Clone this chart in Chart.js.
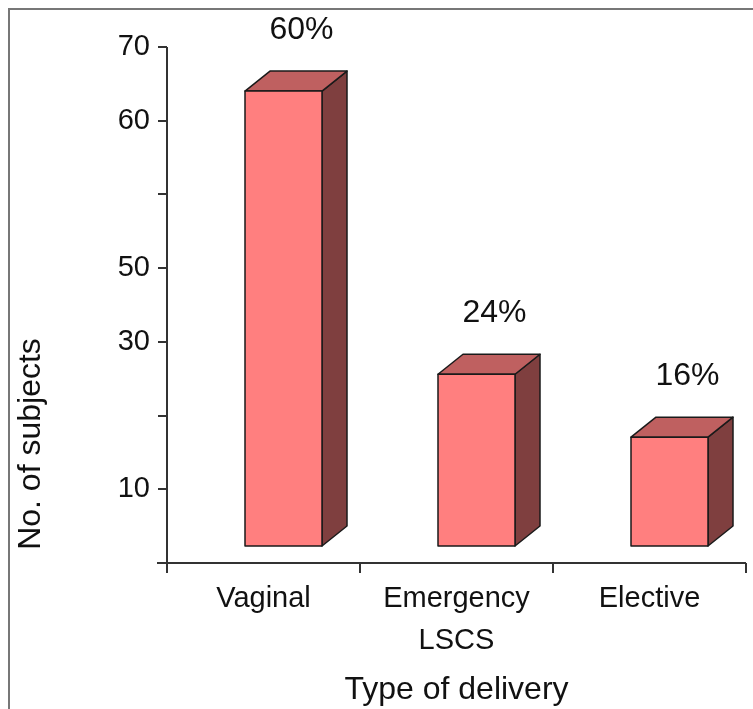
<!DOCTYPE html>
<html>
<head>
<meta charset="utf-8">
<title>Type of delivery</title>
<script src="https://cdn.jsdelivr.net/npm/chart.js@4.4.1/dist/chart.umd.min.js"></script>
<style>
  body { margin: 0; background: #fff; }
  canvas { display: block; }
</style>
</head>
<body>
<canvas id="deliveryChart" width="753" height="709"></canvas>
<script>
// data
const categories = ['Vaginal', ['Emergency', 'LSCS'], 'Elective'];
const percentValues = [60, 24, 16];
const yTickLabels = ['', '10', '', '30', '50', '', '60', '70']; // bottom -> top
const yAxisTop = 65.6;

const FONT = '"Liberation Sans", Arial, sans-serif';
const TEXT = '#111';
const AXIS = '#333';

// box look
const FRONT = '#ff7f7f', TOPFACE = '#bf6060', SIDE = '#7f3f3f';
const DEPTH_X = 25, DEPTH_Y = 20, LIFT = 16, SHIFT = 20;

const framePlugin = {
    id: 'frame',
    beforeDraw(chart) {
        const ctx = chart.ctx;
        ctx.save();
        ctx.fillStyle = '#fff';
        ctx.fillRect(0, 0, chart.width, chart.height);
        ctx.strokeStyle = '#777';
        ctx.lineWidth = 2;
        ctx.strokeRect(9, 9, chart.width + 20, chart.height + 20);
        ctx.restore();
    }
};

const axisLinesPlugin = {
    id: 'axisLines',
    afterDraw(chart) {
        const { ctx, chartArea: a } = chart;
        ctx.save();
        ctx.strokeStyle = AXIS;
        ctx.lineWidth = 2;
        ctx.beginPath();
        ctx.moveTo(a.left, a.top);
        ctx.lineTo(a.left, a.bottom + 10);
        ctx.moveTo(a.left - 10, a.bottom);
        ctx.lineTo(a.right, a.bottom);
        ctx.stroke();

        // y axis title
        ctx.fillStyle = TEXT;
        ctx.font = '32px ' + FONT;
        ctx.textAlign = 'center';
        ctx.textBaseline = 'middle';
        ctx.translate(31, 444);
        ctx.rotate(-Math.PI / 2);
        ctx.fillText('No. of subjects', 0, 0);
        ctx.restore();
    }
};

const boxPlugin = {
    id: 'boxes',
    afterDatasetsDraw(chart) {
        const ctx = chart.ctx;
        const meta = chart.getDatasetMeta(0);
        ctx.save();
        ctx.strokeStyle = '#1a1a1a';
        ctx.lineWidth = 1.5;
        ctx.lineJoin = 'round';
        meta.data.forEach((bar, i) => {
            const p = bar.getProps(['x', 'y', 'base', 'width'], true);
            const left = p.x - p.width / 2 + SHIFT;
            const right = left + p.width;
            const top = p.y;
            const bottom = p.base - LIFT;

            // side
            ctx.fillStyle = SIDE;
            ctx.beginPath();
            ctx.moveTo(right, top);
            ctx.lineTo(right + DEPTH_X, top - DEPTH_Y);
            ctx.lineTo(right + DEPTH_X, bottom - DEPTH_Y);
            ctx.lineTo(right, bottom);
            ctx.closePath();
            ctx.fill();
            ctx.stroke();

            // top
            ctx.fillStyle = TOPFACE;
            ctx.beginPath();
            ctx.moveTo(left, top);
            ctx.lineTo(left + DEPTH_X, top - DEPTH_Y);
            ctx.lineTo(right + DEPTH_X, top - DEPTH_Y);
            ctx.lineTo(right, top);
            ctx.closePath();
            ctx.fill();
            ctx.stroke();

            // front
            ctx.fillStyle = FRONT;
            ctx.fillRect(left, top, p.width, bottom - top);
            ctx.strokeRect(left, top, p.width, bottom - top);

            // percentage label
            ctx.fillStyle = TEXT;
            ctx.font = '32px ' + FONT;
            ctx.textAlign = 'center';
            ctx.textBaseline = 'middle';
            ctx.fillText(percentValues[i] + '%', p.x + 38, top - 61);
        });
        ctx.restore();
    }
};

new Chart(document.getElementById('deliveryChart'), {
    type: 'bar',
    data: {
        labels: categories,
        datasets: [{
            label: 'No. of subjects',
            data: percentValues,
            backgroundColor: 'rgba(0,0,0,0)',
            borderWidth: 0,
            barThickness: 77
        }]
    },
    options: {
        responsive: false,
        animation: false,
        layout: { padding: { top: 47, right: 7, left: 0, bottom: 0 } },
        plugins: {
            legend: { display: false },
            tooltip: { enabled: false }
        },
        scales: {
            x: {
                offset: true,
                grid: { offset: true, drawOnChartArea: false, tickLength: 10, color: AXIS, lineWidth: 2 },
                border: { display: false },
                ticks: { color: TEXT, font: { family: FONT, size: 29, lineHeight: 1.45 }, padding: 5, maxRotation: 0 },
                title: {
                    display: true,
                    text: 'Type of delivery',
                    color: TEXT,
                    font: { family: FONT, size: 32 },
                    padding: { top: 8, bottom: 0 }
                },
                afterFit(scale) { scale.height = 146; }
            },
            y: {
                min: 0,
                max: yAxisTop,
                grid: { drawOnChartArea: false, tickLength: 9, color: AXIS, lineWidth: 2 },
                border: { display: false },
                ticks: {
                    color: TEXT,
                    font: { family: FONT, size: 29 },
                    padding: 8,
                    callback: (value, index) => yTickLabels[index]
                },
                afterBuildTicks(scale) {
                    scale.ticks = yTickLabels.map((_, i) => ({ value: i * yAxisTop / (yTickLabels.length - 1) }));
                },
                afterFit(scale) { scale.width = 167; }
            }
        }
    },
    plugins: [framePlugin, axisLinesPlugin, boxPlugin]
});
</script>
</body>
</html>
